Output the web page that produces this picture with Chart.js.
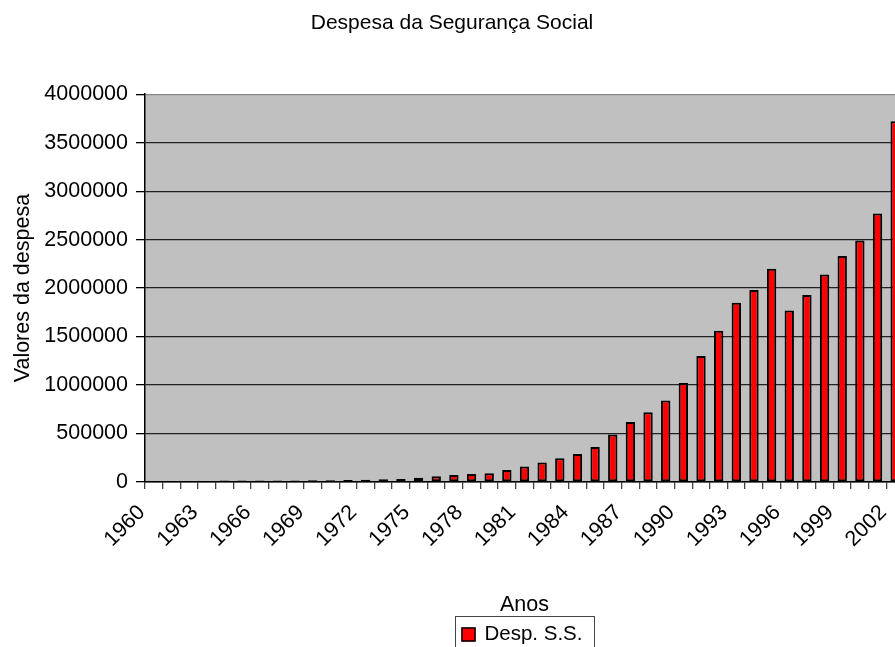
<!DOCTYPE html>
<html>
<head>
<meta charset="utf-8">
<script src="https://cdn.jsdelivr.net/npm/chart.js@4.4.1/dist/chart.umd.min.js"></script>
<style>
  html, body { margin: 0; padding: 0; background: #fff; overflow: hidden; }
  canvas { display: block; }
</style>
</head>
<body>
<canvas id="chart" width="910" height="660"></canvas>
<script>
const years = ['1960', '1961', '1962', '1963', '1964', '1965', '1966', '1967', '1968', '1969',
    '1970', '1971', '1972', '1973', '1974', '1975', '1976', '1977', '1978', '1979',
    '1980', '1981', '1982', '1983', '1984', '1985', '1986', '1987', '1988', '1989',
    '1990', '1991', '1992', '1993', '1994', '1995', '1996', '1997', '1998', '1999',
    '2000', '2001', '2002'];
const despesa = [0, 0, 0, 0, 15000, 15000, 15000, 16000, 16000, 17000,
    18000, 21000, 22000, 28000, 31000, 44000, 59000, 72000, 83000, 90000,
    125000, 160000, 200000, 245000, 290000, 360000, 490000, 620000, 720000, 840000,
    1020000, 1300000, 1560000, 1850000, 1980000, 2200000, 1770000, 1930000, 2140000, 2330000,
    2490000, 2770000, 3720000];
const yMax = 4000000;
const yStep = 500000;
const labelEvery = 3;

const font = "'Liberation Sans', Arial, sans-serif";

// fundo cinzento da área do gráfico
const plotBackground = {
    id: 'plotBackground',
    beforeDraw(chart) {
        const { ctx, chartArea } = chart;
        ctx.save();
        ctx.fillStyle = '#C0C0C0';
        ctx.fillRect(chartArea.left, chartArea.top, chartArea.right - chartArea.left, chartArea.bottom - chartArea.top);
        ctx.restore();
    }
};

// legenda com caixa, centrada na área do gráfico
const boxLegend = {
    id: 'boxLegend',
    afterDraw(chart) {
        const { ctx, chartArea } = chart;
        const ds = chart.data.datasets[0];
        ctx.save();
        ctx.font = '20.5px ' + font;
        const textW = ctx.measureText(ds.label).width;
        const boxW = 6 + 14 + 9 + textW + 12;
        const boxH = 34;
        const x = Math.round((chartArea.left + chartArea.right) / 2 - boxW / 2) + 0.5;
        const y = 616.5;
        ctx.strokeStyle = '#444';
        ctx.lineWidth = 1;
        ctx.strokeRect(x, y, boxW, boxH);
        ctx.fillStyle = ds.backgroundColor;
        ctx.fillRect(x + 6, y + 11, 14, 14);
        ctx.strokeStyle = '#000';
        ctx.lineWidth = 1.5;
        ctx.strokeRect(x + 6.5, y + 11.5, 13, 13);
        ctx.fillStyle = '#000';
        ctx.textBaseline = 'middle';
        ctx.fillText(ds.label, x + 6 + 14 + 9, y + 18);
        ctx.restore();
    }
};

const ctx = document.getElementById('chart').getContext('2d');
const chart = new Chart(ctx, {
    type: 'bar',
    data: {
        labels: years,
        datasets: [{
            label: 'Desp. S.S.',
            data: despesa,
            backgroundColor: '#FF0000',
            borderColor: '#000000',
            borderWidth: 2,
            borderSkipped: false,
            barPercentage: 0.53,
            categoryPercentage: 1
        }]
    },
    options: {
        responsive: false,
        animation: false,
        devicePixelRatio: 1,
        layout: {
            padding: { left: 0, right: 6, top: 0, bottom: 42 }
        },
        plugins: {
            legend: { display: false },
            tooltip: { enabled: false },
            title: {
                display: true,
                text: 'Despesa da Segurança Social',
                color: '#000',
                font: { family: font, size: 21, weight: 'normal' },
                padding: { top: 11, bottom: 58 }
            }
        },
        scales: {
            x: {
                offset: true,
                grid: {
                    offset: true,
                    drawOnChartArea: false,
                    drawTicks: true,
                    tickLength: 7,
                    color: '#444',
                    lineWidth: 1.3
                },
                border: { display: true, color: '#000', width: 1.5 },
                ticks: {
                    autoSkip: false,
                    minRotation: 45,
                    maxRotation: 45,
                    padding: 11,
                    labelOffset: -12,
                    color: '#000',
                    font: { family: font, size: 21.5 },
                    callback: function (value, index) {
                        return index % labelEvery === 0 ? this.getLabelForValue(value) : '';
                    }
                },
                title: {
                    display: true,
                    text: 'Anos',
                    color: '#000',
                    font: { family: font, size: 21.5 },
                    padding: { top: 0, bottom: 0 }
                },
                afterFit: scale => {
                    scale.height = 136;
                    scale.paddingLeft = 0;
                    scale.paddingRight = 0;
                }
            },
            y: {
                min: 0,
                max: yMax,
                grid: {
                    color: c => (c.tick && c.tick.value === yMax ? '#888' : '#222'),
                    tickColor: '#000',
                    lineWidth: 1.3,
                    drawTicks: true,
                    tickLength: 9
                },
                border: { display: true, color: '#000', width: 1.5 },
                ticks: {
                    stepSize: yStep,
                    padding: 8,
                    color: '#000',
                    font: { family: font, size: 21.5 },
                    callback: v => String(v)
                },
                title: {
                    display: true,
                    text: 'Valores da despesa',
                    color: '#000',
                    font: { family: font, size: 21.5 },
                    padding: { top: 10, bottom: 0 }
                },
                afterFit: scale => { scale.width = 145; }
            }
        }
    },
    plugins: [plotBackground, boxLegend]
});
</script>
</body>
</html>
